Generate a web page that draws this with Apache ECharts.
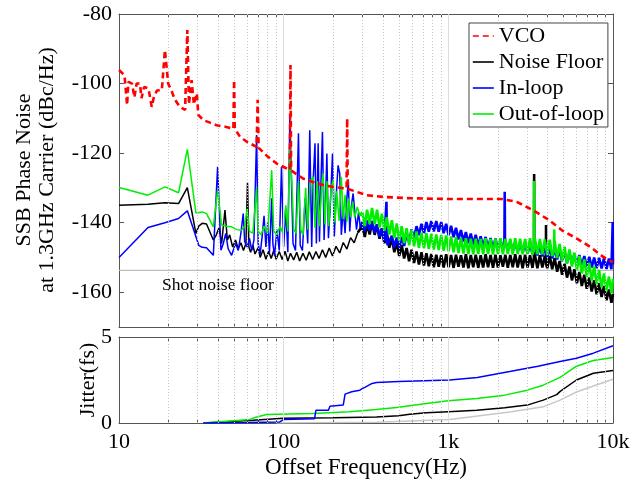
<!DOCTYPE html>
<html>
<head>
<meta charset="utf-8">
<title>SSB Phase Noise</title>
<script src="https://cdn.jsdelivr.net/npm/echarts@6/dist/echarts.min.js"></script>
<style>
  html, body { margin: 0; padding: 0; background: #fff; }
  #chart { width: 644px; height: 487px; }
</style>
</head>
<body>
<div id="chart"></div>
<script>
// axis ticks
var xLabels = [10, 100, 1000, 10000];
var xMinor = [20, 30, 40, 50, 60, 70, 80, 90, 200, 300, 400, 500, 600, 700, 800, 900,
              2000, 3000, 4000, 5000, 6000, 7000, 8000, 9000];
var yTicksTop = [-160, -140, -120, -100, -80];
var yTicksJit = [0, 5];

// VCO phase noise, [Hz, dBc/Hz]
var vco = [[10,-96.1],[10.8,-97.6],[11.2,-106.2],[11.4,-99.5],[12,-100],[12.4,-104],[12.8,-100],[13.4,-100],
  [13.7,-104.2],[14.2,-101],[15.1,-101.4],[15.8,-106.7],[16.3,-103.8],[17,-102],[18.2,-101.9],[19,-90.4],
  [19.9,-100],[21,-102.5],[21.9,-104.7],[23.4,-106.7],[25.2,-107.6],[26,-84.6],[26.6,-106],[27.6,-99],
  [28.5,-106],[29.7,-102.8],[30.3,-109],[32.5,-110.5],[36,-111.3],[39.2,-112],[44.1,-112.4],[49.5,-113],
  [50,-99],[50.5,-113],[54.3,-115.3],[60,-116.8],[68.5,-118.2],[69.5,-104.7],[70.5,-118.5],[80,-121],
  [90.6,-123],[100,-124],[109,-124.9],[110,-94.7],[111,-125],[131,-127.3],[150,-128.3],[174,-129.2],
  [200,-129.7],[241,-130.2],[243,-110],[245,-130.3],[280,-131.2],[318,-132.1],[402,-132.6],[600,-133],
  [1000,-133.2],[1500,-133.2],[2100,-133.2],[2600,-134],[3000,-135.5],[3400,-136.9],[4100,-139.3],
  [4900,-142.2],[6000,-144.5],[7300,-147],[8700,-149.8],[10000,-151.4]];

// below 300 Hz the traces are sparse, [Hz, dBc/Hz]
var floorLow = [[10,-135],[15,-134.7],[19,-134.3],[23,-134.5],[26,-129.9],[29.3,-143.1],[30.5,-141],[32,-140.2],
  [34,-140.4],[37.4,-145],[39,-143.5],[40.5,-141.5],[42,-146],[44,-136.4],[45.5,-145],[47,-143.5],[49,-147],
  [51,-145],[53,-147.5],[55,-145.8],[57,-148],[59,-146],[60.3,-128.5],[61.5,-147],[63,-148.5],[65,-146.5],
  [67,-149],[70,-147.2],[72,-150],[75,-147.8],[78,-150.5],[81,-148.2],[84,-150.3],[87,-148],[90,-150.5],
  [94,-148.3],[98,-150.6],[102,-148.2],[106,-151],[110,-148.8],[115,-150.7],[120,-148.5],[125,-151],
  [131,-148.8],[137,-150.8],[143,-148.4],[150,-150.6],[157,-148.3],[164,-150.3],[172,-147.8],[180,-150],
  [189,-147.3],[198,-149.6],[208,-146.8],[219,-148.7],[230,-145.7],[242,-147.6],[255,-144.3],[268,-145.8],
  [282,-142.8]];

var inLoopLow = [[10,-150],[15,-141.4],[19,-140],[23,-138.8],[26,-136.6],[28.9,-143.1],[30.5,-146.5],[32,-147.1],
  [34,-147.2],[37.4,-149.4],[39.7,-123.9],[41.6,-147.9],[43,-146],[44.5,-143.1],[46,-147.5],[48.3,-149.4],
  [51,-146],[53,-148],[55,-143],[56.8,-137.4],[58,-145.5],[60,-147],[62,-144.5],[64,-148],[66,-145],
  [68.5,-114.8],[70,-146],[72,-149],[74,-144],[76,-138],[78,-147],[80,-140],[82,-148.5],[84.6,-133],
  [86,-146],[88,-149.5],[91,-142],[94,-148],[97,-123.9],[100,-147],[103,-136],[106,-148.5],[109,-109.6],
  [112,-110.1],[114,-146],[118,-148],[123,-114.3],[126,-146.5],[130,-148],[135,-133],[140,-146],[144,-113.4],
  [148,-147],[151,-128],[155,-117.2],[158,-146],[162,-117.2],[165,-145.5],[168,-130],[172,-113.9],[176,-145],
  [180,-132],[183,-120.1],[187,-144.5],[192,-135],[198,-120.1],[203,-144],[208,-133],[214,-123.5],
  [219,-125.8],[224,-143.5],[230,-136],[236,-143],[242,-133],[247,-127.8],[252,-142.5],[258,-135],
  [264,-131.6],[271,-131.6],[277,-142],[285,-137],[292,-141.5]];

var outLoopLow = [[10,-129.9],[15,-132.1],[19,-129.7],[23,-131.4],[26,-118.9],[29.3,-137.2],[32,-136.9],[34,-137.4],
  [37.4,-141.2],[39.7,-130.6],[42,-140.7],[45,-141],[48.3,-141.2],[52,-142],[55.5,-142.2],[58,-141],[60,-136],
  [62,-142.5],[65,-143],[68.5,-130],[70,-142.5],[73,-143.5],[76,-141],[80,-143],[84.6,-124.9],[87,-142.5],
  [91,-143.5],[95,-141],[99,-143],[103,-135],[106,-142.5],[109,-117.2],[112,-127.8],[115,-142],[119,-143],
  [123,-128],[127,-142],[131,-143.5],[136,-130],[140,-142],[145,-128],[151,-126.8],[155,-141.5],[160,-128],
  [165,-141],[170,-130],[174,-125.8],[178,-140.5],[183,-128],[188,-141],[194,-130],[200,-127.8],[205,-140],
  [210,-131],[217,-139.5],[224,-126.8],[230,-139],[236,-132],[242,-139.8],[248,-133],[255,-138.5],[262,-134],
  [270,-138.5],[280,-135.5],[290,-138]];

// above 300 Hz the traces are dense noise bands: frequencies and the read top/bottom swings
var bandFreq = [300,311,321,333,344,357,369,382,395,409,423,438,454,470,486,503,521,539,558,578,598,619,641,663,
  687,711,736,761,788,816,845,874,905,937,970,1004,1039,1076,1113,1152,1193,1235,1278,1323,1369,1417,1467,
  1519,1572,1627,1684,1743,1805,1868,1933,2001,2072,2144,2219,2297,2378,2461,2548,2637,2730,2826,2925,3027,
  3134,3244,3357,3475,3597,3724,3854,3990,4130,4274,4424,4580,4740,4907,5079,5258,5442,5633,5831,6036,6248,
  6467,6694,6929,7173,7424,7685,7955,8234,8523,8823,9133,9453,9785,10000];

var floorBand = [-141.0,-144.1,-140.4,-143.4,-139.9,-143.5,-140.5,-144.6,-141.7,-145.9,-143.0,-147.2,-144.5,
  -148.5,-145.6,-149.6,-146.4,-150.3,-147.3,-151.1,-147.8,-151.6,-148.3,-152.0,-148.5,-152.3,-148.8,-152.5,
  -149.0,-152.8,-149.2,-152.7,-149.3,-152.9,-149.1,-152.8,-149.3,-153.0,-149.2,-152.7,-149.4,-152.9,-149.1,
  -153.1,-149.3,-152.8,-149.2,-153.0,-149.4,-152.9,-149.1,-152.8,-149.3,-153.0,-149.2,-152.9,-149.4,-152.7,
  -149.2,-153.0,-149.3,-152.8,-149.1,-152.9,-149.3,-153.1,-149.2,-152.9,-149.4,-153.0,-149.3,-153.1,-149.4,
  -152.9,-149.5,-153.1,-149.6,-153.4,-150.2,-154.1,-151.0,-155.0,-151.8,-155.8,-152.6,-156.6,-153.4,-157.4,
  -154.2,-158.2,-155.0,-159.0,-155.8,-159.8,-156.6,-160.6,-157.4,-161.4,-158.2,-162.3,-159.2,-163.0,-160.5];

var inLoopBand = [-139.8,-142.5,-139.3,-142.3,-139.5,-142.9,-140.5,-144.1,-141.7,-145.3,-142.9,-146.4,-143.8,
  -147.1,-144.3,-147.3,-144.1,-146.7,-143.2,-145.6,-142.0,-144.5,-141.0,-143.6,-140.3,-143.0,-139.8,-142.6,
  -139.5,-142.5,-139.5,-142.6,-139.8,-143.0,-140.3,-143.6,-140.9,-144.2,-141.5,-144.8,-142.1,-145.4,-142.7,
  -145.9,-143.1,-146.3,-143.5,-146.7,-143.9,-147.0,-144.1,-147.3,-144.4,-147.5,-144.6,-147.7,-144.8,-147.9,
  -145.0,-148.1,-145.2,-148.3,-145.4,-148.5,-145.6,-148.7,-145.8,-148.9,-146.0,-149.1,-146.3,-149.4,-146.6,
  -149.7,-146.9,-150.0,-147.2,-150.3,-147.5,-150.6,-147.8,-151.1,-148.2,-151.5,-148.6,-151.9,-149.0,-152.2,
  -149.3,-152.5,-149.6,-152.7,-149.8,-152.9,-150.0,-153.1,-150.1,-153.2,-150.2,-153.3,-150.3,-153.4,-150.4];

var outLoopBand = [-137.0,-141.0,-136.3,-140.4,-135.8,-140.5,-136.3,-141.4,-137.4,-142.3,-138.4,-143.4,-139.3,
  -144.4,-140.2,-145.2,-141.0,-145.9,-141.6,-146.5,-142.1,-146.8,-142.5,-147.2,-142.9,-147.4,-143.0,-147.6,
  -143.2,-147.7,-143.4,-147.9,-143.5,-148.1,-143.7,-148.2,-144.0,-148.5,-144.2,-148.7,-144.4,-148.9,-144.5,
  -149.0,-144.6,-149.1,-144.6,-149.0,-144.7,-149.1,-144.5,-149.0,-144.7,-149.2,-144.6,-149.0,-144.5,-149.1,
  -144.7,-149.0,-144.6,-149.2,-144.5,-149.0,-144.6,-149.1,-144.7,-149.0,-144.5,-149.2,-144.6,-149.1,-144.7,
  -149.2,-144.8,-149.3,-144.9,-149.6,-145.3,-150.2,-146.1,-151.0,-146.9,-151.8,-147.7,-152.6,-148.6,-153.6,
  -149.6,-154.6,-150.6,-155.6,-151.6,-156.6,-152.6,-157.6,-153.6,-158.6,-154.6,-159.5,-155.5,-160.3,-156.2];

// narrow spurs above 300 Hz
var floorSpurs = [[3310,-150],[3320,-126],[3330,-151],[3915,-151],[3920,-140.7],[3925,-152]];
var inLoopSpurs = [[415,-145.5],[421,-134],[427,-146.5],[2190,-146],[2200,-131.1],[2210,-147],
  [9930,-153],[9960,-139.8],[9990,-152]];
var outLoopSpurs = [[3310,-148],[3320,-128],[3330,-146],[4390,-148],[4400,-142],[4410,-148.5]];

var shotFloor = [[10,-153.7],[10000,-153.7]];

// integrated jitter, [Hz, fs]
var jitInLoop = [[32.5,0],[60,0.03],[94.8,0.06],[99.6,0.2],[154,0.25],[157,0.74],[187,0.74],[191,0.98],
  [230,1.04],[236,1.68],[259,1.82],[290,1.91],[300,2.0],[311,2.07],[340,2.28],[366,2.36],[500,2.42],
  [1020,2.5],[1500,2.65],[2360,2.99],[3500,3.3],[4770,3.57],[6000,3.77],[7600,4.06],[10000,4.49]];
var jitOutLoop = [[32.5,0],[62.3,0.2],[66,0.3],[78.8,0.49],[151,0.55],[250,0.65],[366,0.78],[500,0.92],
  [736,1.13],[1000,1.3],[1490,1.43],[2200,1.62],[3010,1.91],[3770,2.2],[4770,2.65],[6000,3.3],[7600,3.63],
  [10000,3.81]];
var jitFloor = [[32.5,0],[65.2,0.16],[99.6,0.27],[200,0.3],[366,0.35],[500,0.42],[583,0.51],[736,0.6],
  [1000,0.66],[1490,0.74],[2200,0.88],[3010,1.04],[3770,1.33],[4550,1.65],[4800,1.85],[6000,2.5],
  [7600,2.89],[10000,3.05]];
var jitShot = [[90.6,0],[366,0.04],[1020,0.2],[2360,0.64],[3770,0.94],[4770,1.33],[6000,1.8],[7600,2.15],
  [10000,2.54]];

var serif = 'Liberation Serif';
var axisCol = '#555';

// dense band + spurs in frequency order, joined to the last sparse point
function band(low, vals, spurs) {
  var pts = bandFreq.map(function (f, i) { return [f, vals[i]]; }).concat(spurs);
  pts.sort(function (a, b) { return a[0] - b[0]; });
  return [low[low.length - 1]].concat(pts);
}

function fmtX(v) {
  return v >= 1000 ? (v / 1000) + 'k' : String(v);
}

function xAx(grid, pos, labels) {
  return {
    type: 'log', logBase: 10, gridIndex: grid, position: pos, min: 10, max: 10000,
    axisLine: { show: true, onZero: false, lineStyle: { color: axisCol } },
    axisTick: { show: true, inside: true, length: 4, customValues: xLabels.concat(xMinor),
      lineStyle: { color: axisCol } },
    axisLabel: { show: labels, customValues: xLabels, formatter: fmtX, margin: 8,
      fontFamily: serif, fontSize: 22, color: '#000' },
    splitLine: { show: false }
  };
}

function yAx(grid, pos, min, max, ticks, labels) {
  return {
    type: 'value', gridIndex: grid, position: pos, min: min, max: max,
    axisLine: { show: true, onZero: false, lineStyle: { color: axisCol } },
    axisTick: { show: true, inside: true, length: 5, customValues: ticks, lineStyle: { color: axisCol } },
    axisLabel: { show: labels, customValues: ticks, margin: 7, fontFamily: serif, fontSize: 22, color: '#000' },
    splitLine: { show: false }
  };
}

// vertical grid lines, dotted on minor ticks and solid on decades
var gridLines = xMinor.map(function (v) {
  return { xAxis: v, lineStyle: { type: [1, 2], color: '#c8c8c8', width: 1 } };
}).concat([100, 1000].map(function (v) {
  return { xAxis: v, lineStyle: { type: 'solid', color: '#dcdcdc', width: 1 } };
}));

function gridMark() {
  return { silent: true, symbol: 'none', label: { show: false }, animation: false, data: gridLines };
}

function line(name, data, color, xi, yi, z, width, extra) {
  var s = {
    name: name, type: 'line', data: data, xAxisIndex: xi, yAxisIndex: yi, z: z,
    symbol: 'none', smooth: false, animation: false,
    lineStyle: { color: color, width: width }, itemStyle: { color: color }
  };
  for (var k in extra) s[k] = extra[k];
  return s;
}

var chart = echarts.init(document.getElementById('chart'));
chart.setOption({
  backgroundColor: '#fff',
  animation: false,
  grid: [
    { left: 119, top: 14, right: 31, height: 313 },
    { left: 119, top: 337, right: 31, height: 86 }
  ],
  xAxis: [xAx(0, 'bottom', false), xAx(0, 'top', false), xAx(1, 'bottom', true), xAx(1, 'top', false)],
  yAxis: [
    yAx(0, 'left', -170, -80, yTicksTop, true),
    yAx(0, 'right', -170, -80, yTicksTop, false),
    yAx(1, 'left', 0, 5, yTicksJit, true),
    yAx(1, 'right', 0, 5, yTicksJit, false)
  ],
  legend: {
    data: ['VCO', 'Noise Floor', 'In-loop', 'Out-of-loop'],
    orient: 'vertical', left: 469, top: 23, z: 20,
    itemWidth: 21, itemHeight: 14, itemGap: 4,
    padding: [2, 4, 2, 3],
    borderColor: '#444', borderWidth: 1, backgroundColor: '#fff',
    itemStyle: { color: 'transparent', borderWidth: 0, opacity: 0 },
    lineStyle: { width: 1.6 },
    textStyle: { fontFamily: serif, fontSize: 22, color: '#000' }
  },
  graphic: [
    { type: 'text', x: 24, y: 170, rotation: Math.PI / 2,
      style: { text: 'SSB Phase Noise', font: '22px "Liberation Serif"', fill: '#000', textAlign: 'center', textVerticalAlign: 'middle' } },
    { type: 'text', x: 47, y: 170, rotation: Math.PI / 2,
      style: { text: 'at 1.3GHz Carrier (dBc/Hz)', font: '22px "Liberation Serif"', fill: '#000', textAlign: 'center', textVerticalAlign: 'middle' } },
    { type: 'text', x: 88, y: 380, rotation: Math.PI / 2,
      style: { text: 'Jitter(fs)', font: '22px "Liberation Serif"', fill: '#000', textAlign: 'center', textVerticalAlign: 'middle' } },
    { type: 'text', x: 366, y: 468,
      style: { text: 'Offset Frequency(Hz)', font: '23px "Liberation Serif"', fill: '#000', textAlign: 'center', textVerticalAlign: 'middle' } },
    { type: 'text', x: 162, y: 285,
      style: { text: 'Shot noise floor', font: '17.5px "Liberation Serif"', fill: '#000', textAlign: 'left', textVerticalAlign: 'middle' } }
  ],
  series: [
    line('Shot noise', shotFloor, '#bdbdbd', 0, 0, 1, 1.3, { markLine: gridMark() }),
    line('Noise Floor', floorLow, '#000000', 0, 0, 2, 1.5),
    line('Noise Floor', band(floorLow, floorBand, floorSpurs), '#000000', 0, 0, 2, 2.6),
    line('In-loop', inLoopLow, '#0000ff', 0, 0, 3, 1.5),
    line('In-loop', band(inLoopLow, inLoopBand, inLoopSpurs), '#0000ff', 0, 0, 3, 2.6),
    line('Out-of-loop', outLoopLow, '#00ee00', 0, 0, 4, 1.5),
    line('Out-of-loop', band(outLoopLow, outLoopBand, outLoopSpurs), '#00ee00', 0, 0, 4, 2.6),
    line('VCO', vco, '#ff0000', 0, 0, 5, 2.6, { lineStyle: { color: '#ff0000', width: 2.6, type: [6, 4] } }),
    line('Shot jitter', jitShot, '#c8c8c8', 2, 2, 1, 1.5, { markLine: gridMark() }),
    line('Floor jitter', jitFloor, '#000000', 2, 2, 2, 1.5),
    line('Out jitter', jitOutLoop, '#00ee00', 2, 2, 3, 1.5),
    line('In jitter', jitInLoop, '#0000ff', 2, 2, 4, 1.5)
  ]
});
</script>
</body>
</html>
